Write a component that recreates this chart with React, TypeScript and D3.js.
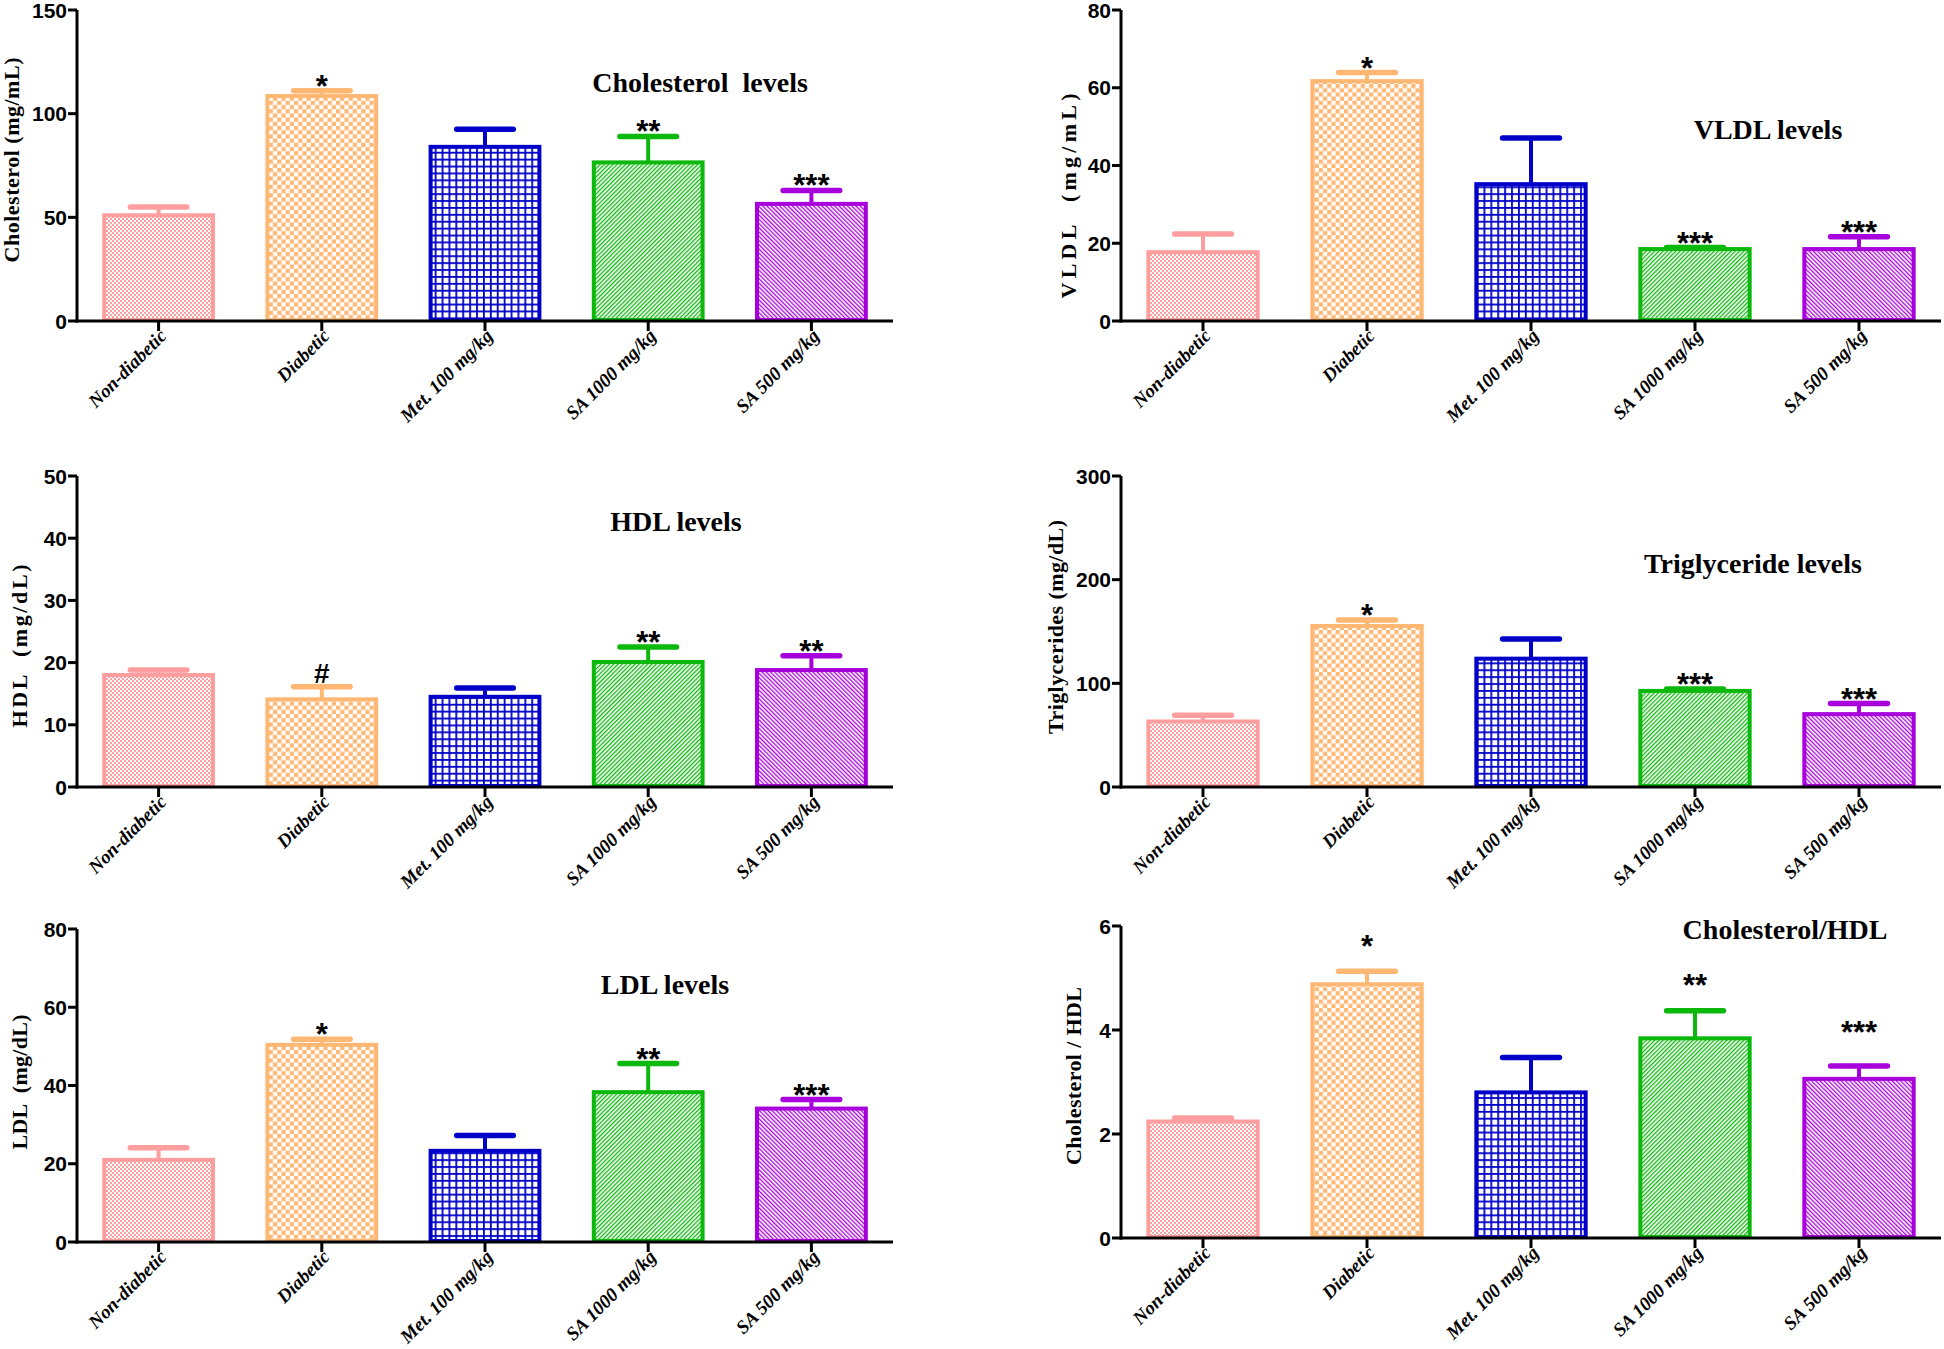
import React from "react";
import * as d3 from "d3";

const categories = ["Non-diabetic", "Diabetic", "Met. 100 mg/kg", "SA 1000 mg/kg", "SA 500 mg/kg"];

const cholesterolMean = [51, 108.5, 84, 76.5, 56.5];
const cholesterolUpper = [55, 111, 92.5, 89, 63];
const cholesterolSig = ["", "*", "", "**", "***"];
const cholesterolTicks = [0, 50, 100, 150];

const vldlMean = [17.7, 61.7, 35.2, 18.5, 18.5];
const vldlUpper = [22.4, 63.9, 47.1, 18.9, 21.7];
const vldlSig = ["", "*", "", "***", "***"];
const vldlTicks = [0, 20, 40, 60, 80];

const hdlMean = [18.0, 14.1, 14.5, 20.1, 18.8];
const hdlUpper = [18.8, 16.1, 15.9, 22.5, 21.1];
const hdlSig = ["", "#", "", "**", "**"];
const hdlTicks = [0, 10, 20, 30, 40, 50];

const tgMean = [63.2, 155.3, 123.8, 92.7, 70.3];
const tgUpper = [69.3, 161, 142.8, 94.6, 80.5];
const tgSig = ["", "*", "", "***", "***"];
const tgTicks = [0, 100, 200, 300];

const ldlMean = [21, 50.4, 23.3, 38.3, 34.1];
const ldlUpper = [24.1, 51.8, 27.2, 45.6, 36.4];
const ldlSig = ["", "*", "", "**", "***"];
const ldlTicks = [0, 20, 40, 60, 80];

const ratioMean = [2.24, 4.88, 2.8, 3.84, 3.06];
const ratioUpper = [2.31, 5.13, 3.47, 4.37, 3.31];
const ratioSig = ["", "*", "", "**", "***"];
const ratioSigLevel = [0, 5.71, 0, 4.96, 4.05];
const ratioTicks = [0, 2, 4, 6];

const colors = ["#FF9E9E", "#FFB874", "#0000C8", "#0CB80C", "#A800DC"];

const panels = [
  { id: "chol", title: "Cholesterol  levels", yLabel: "Cholesterol (mg/mL)", mean: cholesterolMean, upper: cholesterolUpper, sig: cholesterolSig, ticks: cholesterolTicks, sigLevel: null,
    x0: 77, x1: 893, yTop: 10, yZero: 321, titleX: 700, titleY: 92, labX: 19, labY: 160, labLen: 205 },
  { id: "vldl", title: "VLDL levels", yLabel: "VLDL  (mg/mL)", mean: vldlMean, upper: vldlUpper, sig: vldlSig, ticks: vldlTicks, sigLevel: null,
    x0: 1121, x1: 1941, yTop: 10, yZero: 321, titleX: 1768, titleY: 139, labX: 1076, labY: 196, labLen: 205 },
  { id: "hdl", title: "HDL levels", yLabel: "HDL  (mg/dL)", mean: hdlMean, upper: hdlUpper, sig: hdlSig, ticks: hdlTicks, sigLevel: null,
    x0: 77, x1: 893, yTop: 476, yZero: 787, titleX: 676, titleY: 531, labX: 27, labY: 646, labLen: 163 },
  { id: "tg", title: "Triglyceride levels", yLabel: "Triglycerides (mg/dL)", mean: tgMean, upper: tgUpper, sig: tgSig, ticks: tgTicks, sigLevel: null,
    x0: 1121, x1: 1941, yTop: 476, yZero: 787, titleX: 1753, titleY: 573, labX: 1063, labY: 627, labLen: 214 },
  { id: "ldl", title: "LDL levels", yLabel: "LDL  (mg/dL)", mean: ldlMean, upper: ldlUpper, sig: ldlSig, ticks: ldlTicks, sigLevel: null,
    x0: 77, x1: 893, yTop: 929, yZero: 1242, titleX: 665, titleY: 994, labX: 27, labY: 1082, labLen: 135 },
  { id: "ratio", title: "Cholesterol/HDL", yLabel: "Cholesterol / HDL", mean: ratioMean, upper: ratioUpper, sig: ratioSig, ticks: ratioTicks, sigLevel: ratioSigLevel,
    x0: 1121, x1: 1941, yTop: 926, yZero: 1238, titleX: 1785, titleY: 939, labX: 1081, labY: 1076, labLen: 178 },
];

const SERIF = "'Liberation Serif', 'Times New Roman', serif";
const SANS = "'Liberation Sans', Arial, sans-serif";

function Patterns() {
  return (
    <defs>
      <pattern id="p0" patternUnits="userSpaceOnUse" width={4} height={4}>
        <rect width={4} height={4} fill="#fff" />
        <rect x={0} y={0} width={2} height={2} fill={colors[0]} />
        <rect x={2} y={2} width={2} height={2} fill={colors[0]} />
      </pattern>
      <pattern id="p1" patternUnits="userSpaceOnUse" width={8.4} height={8.4}>
        <rect width={8.4} height={8.4} fill="#fff" />
        <rect x={0} y={0} width={4.2} height={4.2} fill={colors[1]} />
        <rect x={4.2} y={4.2} width={4.2} height={4.2} fill={colors[1]} />
      </pattern>
      <pattern id="p2" patternUnits="userSpaceOnUse" width={6.9} height={6.9}>
        <rect width={6.9} height={6.9} fill="#fff" />
        <rect x={0} y={0} width={1.8} height={6.9} fill={colors[2]} />
        <rect x={0} y={0} width={6.9} height={1.8} fill={colors[2]} />
      </pattern>
      <pattern id="p3" patternUnits="userSpaceOnUse" width={3} height={10} patternTransform="rotate(45)">
        <rect width={3} height={10} fill="#fff" />
        <rect x={0} y={0} width={1.3} height={10} fill={colors[3]} />
      </pattern>
      <pattern id="p4" patternUnits="userSpaceOnUse" width={3} height={10} patternTransform="rotate(-45)">
        <rect width={3} height={10} fill="#fff" />
        <rect x={0} y={0} width={1.3} height={10} fill={colors[4]} />
      </pattern>
    </defs>
  );
}

function Panel({ p }: { p: any }) {
  const x = d3.scaleBand<string>().domain(categories).range([p.x0, p.x1]).paddingInner(1 / 3).paddingOuter(1 / 6);
  const y = d3.scaleLinear().domain([0, p.ticks[p.ticks.length - 1]]).range([p.yZero, p.yTop]);
  const bw = x.bandwidth();
  const capHalf = bw * 0.26;
  return (
    <g>
      {categories.map((c, i) => {
        const cx = (x(c) as number) + bw / 2;
        const top = y(p.mean[i]);
        const cap = y(p.upper[i]);
        return (
          <g key={c}>
            <rect x={x(c)} y={top} width={bw} height={p.yZero - top - 1} fill={`url(#p${i})`} stroke={colors[i]} strokeWidth={4} />
            <line x1={cx} x2={cx} y1={top} y2={cap} stroke={colors[i]} strokeWidth={4} />
            <line x1={cx - capHalf} x2={cx + capHalf} y1={cap} y2={cap} stroke={colors[i]} strokeWidth={5.5} strokeLinecap="round" />
          </g>
        );
      })}
      {categories.map((c, i) => {
        const s = p.sig[i];
        if (!s) return null;
        const cx = (x(c) as number) + bw / 2;
        const cap = y(p.upper[i]);
        if (s === "#") {
          return (
            <text key={"s" + i} x={cx} y={cap - 4} textAnchor="middle" fontFamily={SANS} fontWeight="bold" fontSize={28} fill="#000">{s}</text>
          );
        }
        const by = p.sigLevel ? y(p.sigLevel[i]) + 16 : cap + 6;
        return (
          <text key={"s" + i} x={cx} y={by} textAnchor="middle" fontFamily={SANS} fontWeight="bold" fontSize={31} fill="#000">{s}</text>
        );
      })}
      <line x1={p.x0} x2={p.x0} y1={p.yTop} y2={p.yZero + 1.5} stroke="#000" strokeWidth={3} />
      <line x1={p.x0 - 1.5} x2={p.x1} y1={p.yZero} y2={p.yZero} stroke="#000" strokeWidth={3} />
      {p.ticks.map((t: number) => (
        <g key={"t" + t}>
          <line x1={p.x0 - 9} x2={p.x0} y1={y(t)} y2={y(t)} stroke="#000" strokeWidth={3} />
          <text x={p.x0 - 10} y={y(t)} dy="0.36em" textAnchor="end" fontFamily={SANS} fontWeight="bold" fontSize={21} fill="#000">{t}</text>
        </g>
      ))}
      {categories.map((c) => {
        const cx = (x(c) as number) + bw / 2;
        return (
          <g key={"x" + c}>
            <line x1={cx} x2={cx} y1={p.yZero} y2={p.yZero + 10} stroke="#000" strokeWidth={3} />
            <text transform={`translate(${cx + 9},${p.yZero + 16}) rotate(-45)`} textAnchor="end" fontFamily={SERIF} fontWeight="bold" fontStyle="italic" fontSize={19} fill="#000">{c}</text>
          </g>
        );
      })}
      <text x={p.titleX} y={p.titleY} textAnchor="middle" fontFamily={SERIF} fontWeight="bold" fontSize={28} fill="#000" style={{ whiteSpace: "pre" }}>{p.title}</text>
      <text transform={`translate(${p.labX},${p.labY}) rotate(-90)`} textAnchor="middle" fontFamily={SERIF} fontWeight="bold" fontSize={22} fill="#000" textLength={p.labLen} lengthAdjust="spacing" style={{ whiteSpace: "pre" }}>{p.yLabel}</text>
    </g>
  );
}

export default function App() {
  return (
    <svg width={1944} height={1349} viewBox="0 0 1944 1349" style={{ position: "absolute", left: 0, top: 0, background: "#fff" }}>
      <rect width={1944} height={1349} fill="#fff" />
      <Patterns />
      {panels.map((p) => (
        <Panel key={p.id} p={p} />
      ))}
    </svg>
  );
}
